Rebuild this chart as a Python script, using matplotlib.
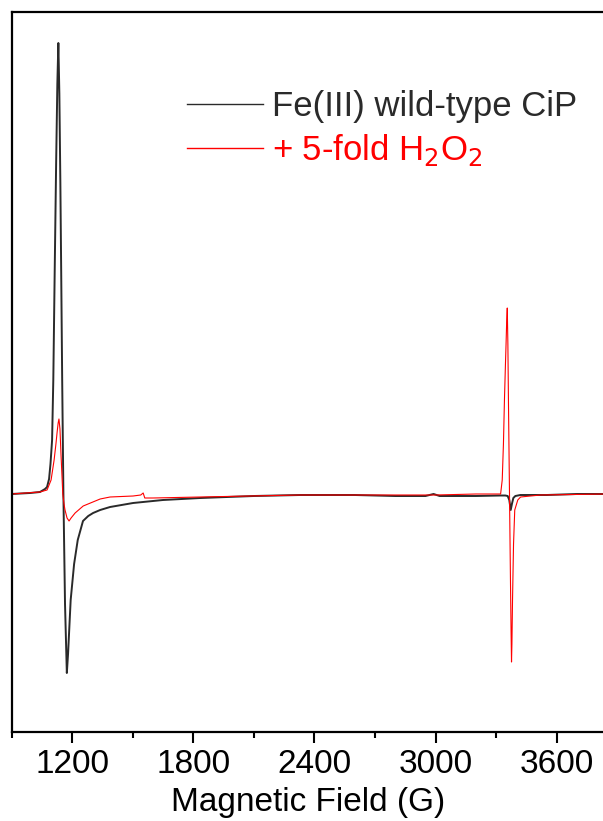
import matplotlib
matplotlib.use("Agg")
import matplotlib.pyplot as plt
from matplotlib.ticker import MultipleLocator

plt.rcParams['font.family'] = ['Liberation Sans', 'DejaVu Sans']

# Fe(III) wild-type CiP (field in G, intensity in arb. units)
field_wt = [900, 992, 1041, 1066, 1076, 1086, 1093, 1101, 1107, 1114, 1121, 1127,
            1132, 1137, 1142, 1146, 1151, 1157, 1165, 1174, 1180, 1193, 1210, 1228,
            1254, 1280, 1304, 1339, 1388, 1502, 1650, 1835, 2100, 2330, 2600, 2800,
            2950, 2990, 3020, 3200, 3322, 3345, 3357, 3365, 3372, 3378, 3385, 3395,
            3420, 3550, 3700, 3837]
int_wt = [0, 1, 2, 5, 7, 15, 30, 54, 114, 224, 330, 410,
          451, 400, 310, 224, 114, 0, -110, -179, -160, -106, -70, -46,
          -27, -22, -19, -16, -13, -9, -6, -4, -2, -1, -1, -2,
          -2, 0, -2, -2, -1.5, -1.5, -2, -6, -16, -10, -4, -2,
          -1, -1, 0, 0]

# + 5-fold H2O2
field_h2o2 = [900, 1041, 1076, 1096, 1111, 1120, 1126, 1131, 1135, 1140, 1145, 1150,
              1154, 1160, 1165, 1175, 1185, 1195, 1215, 1255, 1339, 1388, 1502, 1540,
              1552, 1560, 1600, 1835, 2330, 2800, 3000, 3200, 3322, 3330, 3336, 3341,
              3346, 3349, 3352, 3355, 3358, 3361, 3366, 3371, 3374, 3376, 3378, 3381,
              3386, 3392, 3407, 3421, 3520, 3837]
int_h2o2 = [0, 2, 4, 14, 34, 50, 62, 71, 75, 65, 40, 18,
            0, -10, -16, -24, -27, -24, -19, -12, -5, -3, -2, -1,
            1, -4, -4, -3, -1, -1, -1, 0, 0, 14, 50, 94,
            130, 150, 172, 186, 150, 90, 0, -90, -140, -168, -150, -106,
            -50, -16, -6, -3, -1, 0]

xticks_major = [1200, 1800, 2400, 3000, 3600]

fig = plt.figure(figsize=(6.03, 8.21), dpi=100)
ax = fig.add_axes([11.5 / 603, 89 / 821, 1 - 11.5 / 603 + 0.002, (732 - 12) / 821])

ax.plot(field_wt, int_wt, color='#2a2a2a', lw=1.4, label='Fe(III) wild-type CiP')
ax.plot(field_h2o2, int_h2o2, color='#ff0000', lw=0.8, label='+ 5-fold H$_2$O$_2$')

ax.set_xlim(900, 3835)
ax.set_ylim(-238, 482)
ax.set_xticks(xticks_major)
ax.xaxis.set_minor_locator(MultipleLocator(300))
ax.set_yticks([])
ax.spines['right'].set_visible(False)
for s in ['top', 'left', 'bottom']:
    ax.spines[s].set_linewidth(1.6)
ax.tick_params(axis='x', which='major', direction='out', length=8, width=1.5,
               labelsize=24, pad=4)
ax.tick_params(axis='x', which='minor', direction='out', length=4.5, width=1.5)
ax.set_xlabel('Magnetic Field (G)', fontsize=24, labelpad=5)

leg = ax.legend(loc='upper left', bbox_to_anchor=(187 / 603, 1 - 90 / 821),
                bbox_transform=fig.transFigure, frameon=False, fontsize=25,
                handlelength=2.2, handletextpad=0.25, labelspacing=0.25,
                borderpad=0, borderaxespad=0, labelcolor='linecolor')
for line in leg.get_lines():
    line.set_linewidth(1.0)

fig.savefig('out.png', dpi=100)
